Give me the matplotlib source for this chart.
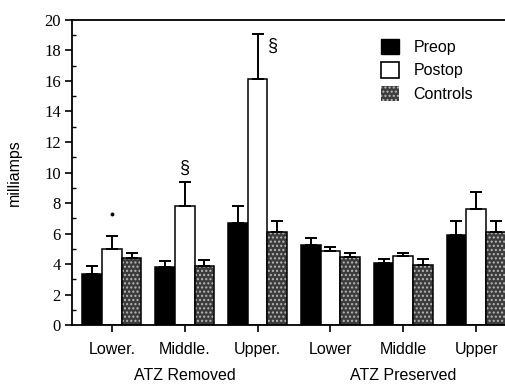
import numpy as np
import matplotlib.pyplot as plt
from matplotlib.patches import Patch

# values (milliamps)
categories = ['Lower.', 'Middle.', 'Upper.', 'Lower', 'Middle', 'Upper']
preop = [3.35, 3.8, 6.7, 5.25, 4.05, 5.9]
preop_err = [3.9, 4.2, 7.8, 5.7, 4.3, 6.8]
postop = [5.0, 7.8, 16.1, 4.85, 4.5, 7.6]
postop_err = [5.85, 9.35, 19.1, 5.1, 4.75, 8.7]
controls = [4.4, 3.9, 6.1, 4.45, 3.95, 6.1]
controls_err = [4.7, 4.25, 6.8, 4.7, 4.3, 6.8]
groups = ['ATZ Removed', 'ATZ Preserved']

sans = 'Liberation Sans'
serif = 'Liberation Serif'
plt.rcParams['hatch.linewidth'] = 1.0

fig = plt.figure(figsize=(5.06, 3.89), dpi=100)
ax = fig.add_axes([0.142, 0.1645, 0.858, 0.7841])

x = np.arange(len(categories))
w = 0.27

series = [(preop, preop_err, 'black'), (postop, postop_err, 'white'),
          (controls, controls_err, None)]
for i, (vals, tops, fc) in enumerate(series):
    pos = x + (i - 1) * w
    if fc is None:
        # stippled grey fill, then outline
        ax.bar(pos, vals, width=w, facecolor='#3c3c3c', edgecolor='#b8b8b8',
               hatch='....', linewidth=0, zorder=2)
        ax.bar(pos, vals, width=w, facecolor='none', edgecolor='black',
               linewidth=1.1, zorder=2)
    else:
        ax.bar(pos, vals, width=w, facecolor=fc, edgecolor='black',
               linewidth=1.1, zorder=2)
    vals = np.array(vals)
    up = np.array(tops) - vals
    ax.errorbar(pos, vals, yerr=[np.zeros_like(up), up], fmt='none',
                ecolor='black', elinewidth=1.4, capsize=4, capthick=1.4, zorder=3)

# significance marks
ax.plot([0], [7.3], 'o', color='black', markersize=1.8)
ax.text(1, 10.3, '§', ha='center', va='center', fontsize=13, family=sans)
ax.text(2.21, 18.3, '§', ha='center', va='center', fontsize=13, family=sans)

ax.set_xlim(-0.55, 5.41)
ax.set_ylim(0, 20)
ax.set_xticks(x)
ax.set_xticklabels(categories, fontsize=11.5, family=sans)
ax.set_yticks(range(0, 21, 2))
ax.set_yticks(range(0, 21, 1), minor=True)
for lab in ax.get_yticklabels():
    lab.set_family(serif)
    lab.set_fontsize(12)
ax.tick_params(axis='x', direction='out', length=5, width=1.2, pad=7)
ax.tick_params(axis='y', which='major', direction='out', length=5, width=1.2, pad=3)
ax.tick_params(axis='y', which='minor', direction='in', length=3, width=1)
ax.set_ylabel('milliamps', fontsize=11.5, family=sans, labelpad=16)

for sp in ['left', 'bottom', 'top']:
    ax.spines[sp].set_linewidth(1.3)
ax.spines['right'].set_visible(False)

trans = ax.get_xaxis_transform()
ax.text(1, -0.165, groups[0], ha='center', va='center', fontsize=11.5,
        family=sans, transform=trans)
ax.text(4, -0.165, groups[1], ha='center', va='center', fontsize=11.5,
        family=sans, transform=trans)

handles = [Patch(facecolor='black', edgecolor='black', label='Preop'),
           Patch(facecolor='white', edgecolor='black', linewidth=1.2, label='Postop'),
           Patch(facecolor='#3c3c3c', edgecolor='#b8b8b8', hatch='....',
                 linewidth=0, label='Controls')]
ax.legend(handles=handles, loc='upper left', bbox_to_anchor=(0.68, 0.985),
          frameon=False, prop={'family': sans, 'size': 11.5},
          handlelength=1.1, handleheight=1.1, labelspacing=0.45, handletextpad=0.9)

fig.savefig('out.png', dpi=100)
